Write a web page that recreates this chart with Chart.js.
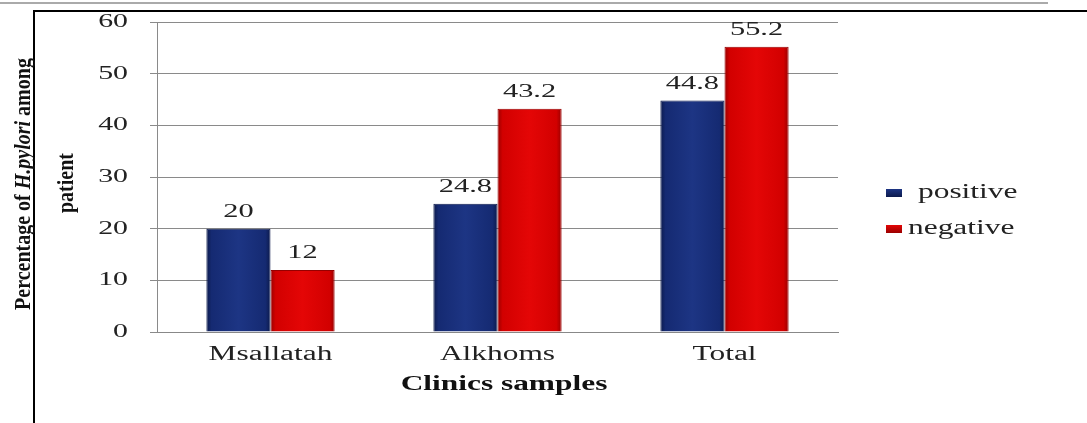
<!DOCTYPE html>
<html>
<head>
<meta charset="utf-8">
<script src="https://cdn.jsdelivr.net/npm/chart.js@4"></script>
<style>
  html, body { margin: 0; padding: 0; background: #fff; }
  #wrap { position: relative; width: 1087px; height: 423px; overflow: hidden; }
  #topRule { position: absolute; left: 0; top: 2px; width: 1048px; height: 2px; background: #aaa; }
  #frame { position: absolute; left: 33px; top: 10px; right: -5px; bottom: -5px;
           border-top: 2px solid #000; border-left: 2px solid #000; }
  canvas { position: absolute; left: 0; top: 0; }
</style>
</head>
<body>
<div id="wrap">
  <div id="topRule"></div>
  <div id="frame"></div>
  <canvas id="chart" width="1087" height="423"></canvas>
</div>
<script>
// Data
const categories = ['Msallatah', 'Alkhoms', 'Total'];
const positive = [20, 24.8, 44.8];
const negative = [12, 43.2, 55.2];
const yTicks = [0, 10, 20, 30, 40, 50, 60];

const serif = '"Liberation Serif", "DejaVu Serif", serif';
const STRETCH = 1.57; // the original text is drawn wide

// Draws text stretched sideways
function wideText(ctx, text, x, y, font, align, sx) {
    ctx.save();
    ctx.font = font;
    ctx.translate(x, y);
    ctx.scale(sx, 1);
    ctx.textAlign = align;
    ctx.fillText(text, 0, 0);
    ctx.restore();
}

// Shaded bar fill, like the 3D look in the original
// (backgroundColor is scriptable so every bar gets its own options object)
const barShade = {
    id: 'barShade',
    beforeDatasetsDraw(chart) {
        const ctx = chart.ctx;
        chart.data.datasets.forEach((ds, i) => {
            chart.getDatasetMeta(i).data.forEach(bar => {
                const half = bar.width / 2;
                const g = ctx.createLinearGradient(bar.x - half, 0, bar.x + half, 0);
                g.addColorStop(0, ds.shade[0]);
                g.addColorStop(0.08, ds.shade[1]);
                g.addColorStop(0.5, ds.shade[2]);
                g.addColorStop(0.92, ds.shade[1]);
                g.addColorStop(1, ds.shade[0]);
                bar.options.backgroundColor = g;
            });
        });
    }
};

// All the text: ticks, value labels, titles and legend
const texts = {
    id: 'texts',
    afterDraw(chart) {
        const ctx = chart.ctx;
        const xs = chart.scales.x;
        const ys = chart.scales.y;
        ctx.save();
        ctx.fillStyle = '#222';
        ctx.textBaseline = 'middle';

        // y tick labels
        yTicks.forEach(v => {
            wideText(ctx, String(v), 128, ys.getPixelForValue(v), '19px ' + serif, 'right', STRETCH);
        });

        // category labels
        categories.forEach((c, i) => {
            wideText(ctx, c, xs.getPixelForValue(i), 355, '20px ' + serif, 'center', STRETCH);
        });

        // x title
        ctx.fillStyle = '#111';
        wideText(ctx, 'Clinics samples', 504, 385, 'bold 20px ' + serif, 'center', STRETCH);

        // value labels above bars
        ctx.fillStyle = '#222';
        ctx.textBaseline = 'alphabetic';
        chart.data.datasets.forEach((ds, i) => {
            chart.getDatasetMeta(i).data.forEach((bar, j) => {
                wideText(ctx, String(ds.data[j]), bar.x, bar.y - 12, '19px ' + serif, 'center', 1.6);
            });
        });

        // y title, rotated, with italic species name
        ctx.fillStyle = '#111';
        ctx.textBaseline = 'middle';
        const parts = [
            ['bold 20px ' + serif, 'Percentage of '],
            ['bold italic 20px ' + serif, 'H.pylori'],
            ['bold 20px ' + serif, ' among']
        ];
        let total = 0;
        parts.forEach(p => { ctx.font = p[0]; total += ctx.measureText(p[1]).width; });
        ctx.save();
        ctx.translate(24, 184);
        ctx.rotate(-Math.PI / 2);
        ctx.scale(1, 1.2);
        let x = -total / 2;
        ctx.textAlign = 'left';
        parts.forEach(p => {
            ctx.font = p[0];
            ctx.fillText(p[1], x, 0);
            x += ctx.measureText(p[1]).width;
        });
        ctx.restore();
        ctx.save();
        ctx.translate(67, 183);
        ctx.rotate(-Math.PI / 2);
        ctx.scale(1, 1.2);
        ctx.font = 'bold 20px ' + serif;
        ctx.textAlign = 'center';
        ctx.fillText('patient', 0, 0);
        ctx.restore();

        // legend
        const rows = [193, 229];
        const textX = [918, 908];
        chart.data.datasets.forEach((ds, i) => {
            const y = rows[i];
            const g = ctx.createLinearGradient(0, y - 4, 0, y + 4);
            g.addColorStop(0, ds.shade[2]);
            g.addColorStop(1, ds.shade[0]);
            ctx.fillStyle = g;
            ctx.fillRect(886, y - 4, 16, 8);
            ctx.fillStyle = '#222';
            wideText(ctx, ds.label, textX[i], y, '20px ' + serif, 'left', STRETCH);
        });
        ctx.restore();
    }
};

new Chart(document.getElementById('chart'), {
    type: 'bar',
    data: {
        labels: categories,
        datasets: [{
            label: 'positive',
            data: positive,
            backgroundColor: () => '#172d78',
            borderColor: '#0c1a4c',
            borderWidth: 1,
            shade: ['#0c1a4c', '#152a72', '#1d3584']
        }, {
            label: 'negative',
            data: negative,
            backgroundColor: () => '#d60000',
            borderColor: '#960000',
            borderWidth: 1,
            shade: ['#9a0000', '#d20000', '#e40606']
        }]
    },
    options: {
        responsive: false,
        animation: false,
        devicePixelRatio: 1,
        layout: { padding: { top: 22, right: 249, left: 0, bottom: 0 } },
        plugins: { legend: { display: false }, tooltip: { enabled: false } },
        datasets: { bar: { categoryPercentage: 0.565, barPercentage: 1 } },
        scales: {
            x: {
                grid: { display: false, drawTicks: false },
                border: { display: true, color: '#888', width: 1 },
                ticks: { display: false },
                afterFit(scale) { scale.height = 91; }
            },
            y: {
                min: 0, max: 60,
                afterBuildTicks(scale) { scale.ticks = yTicks.map(v => ({ value: v })); },
                grid: { color: '#8a8a8a', tickLength: 7, tickColor: '#8a8a8a' },
                border: { display: true, color: '#8a8a8a', width: 1 },
                ticks: { display: false },
                afterFit(scale) { scale.width = 157; }
            }
        }
    },
    plugins: [barShade, texts]
});
</script>
</body>
</html>
